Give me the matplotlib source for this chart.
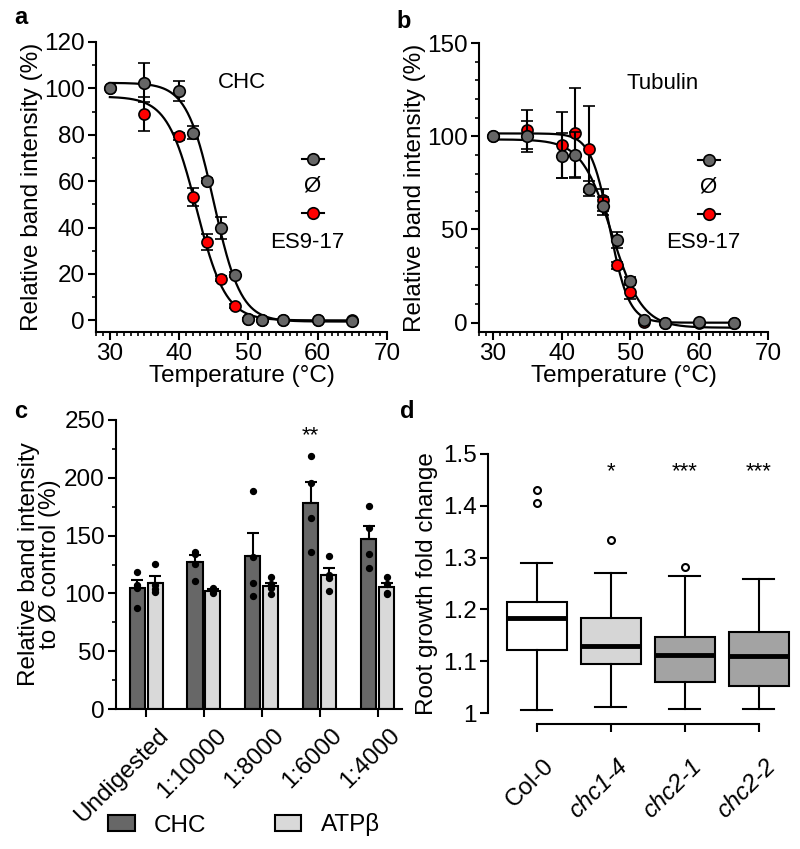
import numpy as np
import matplotlib
matplotlib.use("Agg")
import matplotlib.pyplot as plt
from matplotlib.ticker import MultipleLocator
from matplotlib.patches import Patch
from matplotlib.transforms import ScaledTranslation

plt.rcParams['font.family'] = ['Liberation Sans', 'DejaVu Sans']
plt.rcParams['axes.linewidth'] = 1.5

# ---------------- data ----------------
# Panel a: CHC thermal shift
temps = [30, 35, 40, 42, 44, 46, 48, 50, 52, 55, 60, 65]
chc_ctrl = [100, 102.4, 98.8, 80.9, 60.3, 39.8, 19.7, 0.7, 0, 0.3, 0, -0.3]
chc_ctrl_err = [0, 8.4, 4.2, 2.9, 1, 4.7, 1, 0.5, 0, 0, 0, 0]
chc_es = [100, 88.9, 79.4, 53.2, 33.8, 18.0, 6.2, 0.5, 0, 0, 0, 0]
chc_es_err = [0, 7.4, 1.5, 4.0, 3.3, 1, 1, 0, 0, 0, 0, 0]
# Boltzmann fit parameters (top, bottom, Tm, slope)
chc_ctrl_fit = (102.4, -0.5, 45.0, 1.95)
chc_es_fit = (96.5, 0.0, 42.5, 2.1)

# Panel b: Tubulin thermal shift
tub_ctrl = [100, 100, 89.5, 90, 71.8, 62.6, 44.4, 22.6, 1.5, 0, 0.4, 0]
tub_ctrl_err = [0, 8.2, 12, 12, 4, 5, 4.4, 2, 0, 0, 0, 0]
tub_es = [100, 103.5, 95.3, 101.6, 93.3, 65.8, 30.7, 16.4, 0.5, 0, 0, 0]
tub_es_err = [0, 10.5, 17.5, 24, 23, 6, 2, 3.9, 0, 0, 0, 0]
tub_ctrl_fit = (98.3, -2.7, 47.3, 2.2)
tub_es_fit = (101.5, 0.0, 47.0, 1.4)

# Panel c: protease digestion
digest = ['Undigested', '1:10000', '1:8000', '1:6000', '1:4000']
chc_mean = [104.6, 127.2, 132.0, 178.0, 147.2]
chc_sem = [7.1, 6.0, 20.0, 18.4, 11.5]
atp_mean = [109.4, 102.4, 106.8, 115.8, 105.4]
atp_sem = [6.0, 1.2, 2.5, 6.6, 3.5]
chc_dots = [[118.9, 107.4, 105.0, 87.2],
            [136.2, 134.2, 125.3, 111.1],
            [188.2, 131.9, 109.4, 98.1],
            [218.5, 195.4, 165.1, 136.2],
            [175.2, 157.0, 134.2, 122.4]]
atp_dots = [[125.3, 107.0, 104.0, 101.5],
            [104.5, 103.0, 102.0, 100.5],
            [114.6, 108.0, 105.0, 99.3],
            [132.5, 116.0, 113.0, 102.2],
            [114.0, 108.5, 100.0, 99.5]]

# Panel d: root growth box plots
genotypes = ['Col-0', 'chc1-4', 'chc2-1', 'chc2-2']
box_whislo = [1.006, 1.011, 1.007, 1.008]
box_q1 = [1.122, 1.0945, 1.060, 1.0527]
box_med = [1.184, 1.1285, 1.112, 1.1105]
box_q3 = [1.2134, 1.1825, 1.146, 1.1555]
box_whishi = [1.289, 1.270, 1.265, 1.259]
box_fliers = [[1.431, 1.405], [1.334], [1.281], []]
box_colors = ['#ffffff', '#d6d6d6', '#a3a3a3', '#a3a3a3']
signif = ['', '*', '***', '***']


def boltzmann(x, top, bottom, tm, s):
    return bottom + (top - bottom) / (1 + np.exp((x - tm) / s))


GREY = '#666666'
RED = '#ff0000'
FS = 17.5
FS_IN = 16

fig = plt.figure(figsize=(8, 8.49), dpi=100)
W, H = 800.0, 849.0


def axes_px(l, t, r, b):
    return fig.add_axes([l / W, 1 - b / H, (r - l) / W, (b - t) / H])


def style_tsa(ax, ymax, ymajor):
    ax.set_xlim(28, 70)
    ax.set_ylim(-5, ymax)
    ax.spines['top'].set_visible(False)
    ax.spines['right'].set_visible(False)
    ax.xaxis.set_major_locator(MultipleLocator(10))
    ax.xaxis.set_minor_locator(MultipleLocator(1))
    ax.yaxis.set_major_locator(MultipleLocator(ymajor))
    ax.yaxis.set_minor_locator(MultipleLocator(10))
    ax.tick_params(which='major', length=6, width=1.5, labelsize=FS, pad=2)
    ax.tick_params(which='minor', length=3, width=1.2)
    ax.set_xlabel('Temperature (°C)', fontsize=FS, labelpad=0)
    ax.set_ylabel('Relative band intensity (%)', fontsize=FS, labelpad=1)


def draw_tsa(ax, ctrl, ctrl_err, ctrl_fit, es, es_err, es_fit):
    xs = np.linspace(30, 65, 300)
    ax.plot(xs, boltzmann(xs, *es_fit), color='black', lw=1.6, zorder=2)
    ax.plot(xs, boltzmann(xs, *ctrl_fit), color='black', lw=1.6, zorder=2)
    ax.errorbar(temps, es, yerr=es_err, fmt='o', ms=8, mfc=RED, mec='black',
                mew=1.2, ecolor='black', elinewidth=1.5, capsize=4.5, capthick=1.5,
                zorder=3, clip_on=False)
    ax.errorbar(temps, ctrl, yerr=ctrl_err, fmt='o', ms=8.3, mfc=GREY, mec='black',
                mew=1.2, ecolor='black', elinewidth=1.5, capsize=4.5, capthick=1.5,
                zorder=4, clip_on=False)


def tsa_legend(ax, x, title, tx):
    ax.text(tx, 0.86, title, transform=ax.transAxes, fontsize=FS_IN, ha='center', va='center')
    for yy, c in [(0.595, GREY), (0.41, RED)]:
        ax.plot([x - 0.038, x + 0.038], [yy, yy], transform=ax.transAxes, color='black', lw=1.5)
        ax.plot([x], [yy], transform=ax.transAxes, marker='o', ms=8.3, mfc=c, mec='black', mew=1.2)
    ax.text(x - 0.005, 0.503, 'Ø', transform=ax.transAxes, fontsize=FS_IN, ha='center', va='center')
    ax.text(x - 0.02, 0.31, 'ES9-17', transform=ax.transAxes, fontsize=FS_IN, ha='center', va='center')


# ---- panel a ----
axa = axes_px(96, 42, 387, 332)
style_tsa(axa, 120, 20)
draw_tsa(axa, chc_ctrl, chc_ctrl_err, chc_ctrl_fit, chc_es, chc_es_err, chc_es_fit)
tsa_legend(axa, (313 - 96) / 291, 'CHC', (242 - 96) / 291)

# ---- panel b ----
axb = axes_px(479, 43, 768, 332)
style_tsa(axb, 150, 50)
draw_tsa(axb, tub_ctrl, tub_ctrl_err, tub_ctrl_fit, tub_es, tub_es_err, tub_es_fit)
tsa_legend(axb, (709 - 479) / 289, 'Tubulin', (663 - 479) / 289)

# ---- panel c ----
axc = axes_px(116, 420, 402, 709)
xg = np.arange(len(digest))
bw = 0.26
off = 0.155
axc.bar(xg - off, chc_mean, bw, color='#676767', edgecolor='black', lw=1.5, zorder=2,
        yerr=[np.zeros(len(chc_sem)), chc_sem],
        error_kw=dict(ecolor='black', elinewidth=1.5, capsize=4, capthick=1.5, zorder=3))
axc.bar(xg + off, atp_mean, bw, color='#d9d9d9', edgecolor='black', lw=1.5, zorder=2,
        yerr=[np.zeros(len(atp_sem)), atp_sem],
        error_kw=dict(ecolor='black', elinewidth=1.5, capsize=4, capthick=1.5, zorder=3))
for i in range(len(digest)):
    axc.scatter(np.full(len(chc_dots[i]), xg[i] - off), chc_dots[i], s=18, color='black', zorder=4)
    axc.scatter(np.full(len(atp_dots[i]), xg[i] + off), atp_dots[i], s=18, color='black', zorder=4)
axc.text(3 - off, 236, '**', ha='center', va='center', fontsize=FS_IN)
axc.set_xlim(-0.52, 4.42)
axc.set_ylim(0, 250)
axc.spines['top'].set_visible(False)
axc.spines['right'].set_visible(False)
axc.yaxis.set_major_locator(MultipleLocator(50))
axc.yaxis.set_minor_locator(MultipleLocator(25))
axc.set_xticks(xg)
axc.set_xticklabels(digest, rotation=45, ha='right', rotation_mode='anchor')
axc.tick_params(which='major', length=6, width=1.5, labelsize=FS, pad=2)
axc.tick_params(which='minor', length=3, width=1.2)
axc.tick_params(axis='x', pad=5)
shift_c = ScaledTranslation(8 / 72, 0, fig.dpi_scale_trans)
for lbl in axc.get_xticklabels():
    lbl.set_transform(lbl.get_transform() + shift_c)
axc.set_ylabel('Relative band intensity\nto Ø control (%)', fontsize=FS, labelpad=2,
               linespacing=0.95)
fig.legend(handles=[Patch(facecolor='#676767', edgecolor='black', lw=1.5),
                    Patch(facecolor='#d9d9d9', edgecolor='black', lw=1.5)],
           labels=['CHC', 'ATPβ'], loc='center left', bbox_to_anchor=(108 / W, 1 - 825 / H),
           ncol=2, frameon=False, fontsize=FS, handlelength=1.1, handleheight=0.6,
           handletextpad=0.8, columnspacing=2.8, borderpad=0, borderaxespad=0)

# ---- panel d ----
axd = axes_px(488, 454, 795, 713)
stats = []
for i, g in enumerate(genotypes):
    stats.append(dict(med=box_med[i], q1=box_q1[i], q3=box_q3[i], whislo=box_whislo[i],
                      whishi=box_whishi[i], fliers=box_fliers[i], label=g))
bp = axd.bxp(stats, positions=np.arange(len(genotypes)), widths=0.81, patch_artist=True,
             boxprops=dict(edgecolor='black', linewidth=1.5),
             medianprops=dict(color='black', linewidth=3.5),
             whiskerprops=dict(color='black', linewidth=1.5),
             capprops=dict(color='black', linewidth=1.5), capwidths=0.42,
             flierprops=dict(marker='o', mfc='white', mec='black', ms=5, mew=1.5))
for patch, c in zip(bp['boxes'], box_colors):
    patch.set_facecolor(c)
for i, s in enumerate(signif):
    if s:
        axd.text(i, 1.466, s, ha='center', va='center', fontsize=FS_IN)
axd.set_xlim(-0.662, 3.49)
axd.set_ylim(1.0, 1.5)
axd.spines['top'].set_visible(False)
axd.spines['right'].set_visible(False)
axd.spines['left'].set_bounds(1.0, 1.5)
axd.spines['bottom'].set_position(('outward', 8))
axd.spines['bottom'].set_bounds(0, 3)
axd.set_yticks([1.0, 1.1, 1.2, 1.3, 1.4, 1.5])
axd.set_yticklabels(['1', '1.1', '1.2', '1.3', '1.4', '1.5'])
axd.set_xticks(np.arange(len(genotypes)))
axd.set_xticklabels(genotypes, rotation=45, ha='right', rotation_mode='anchor')
for lbl in axd.get_xticklabels()[1:]:
    lbl.set_fontstyle('italic')
axd.tick_params(which='major', length=6, width=1.5, labelsize=FS, pad=2)
axd.tick_params(axis='x', pad=16)
shift_d = ScaledTranslation(4 / 72, 0, fig.dpi_scale_trans)
for lbl in axd.get_xticklabels():
    lbl.set_transform(lbl.get_transform() + shift_d)
axd.set_ylabel('Root growth fold change', fontsize=FS, labelpad=4)

# panel labels
for lab, x, y in [('a', 14, 18), ('b', 396, 22), ('c', 14, 412), ('d', 400, 412)]:
    fig.text(x / W, 1 - y / H, lab, fontsize=17, fontweight='bold', ha='left', va='center')

fig.savefig('out.png', dpi=100)
